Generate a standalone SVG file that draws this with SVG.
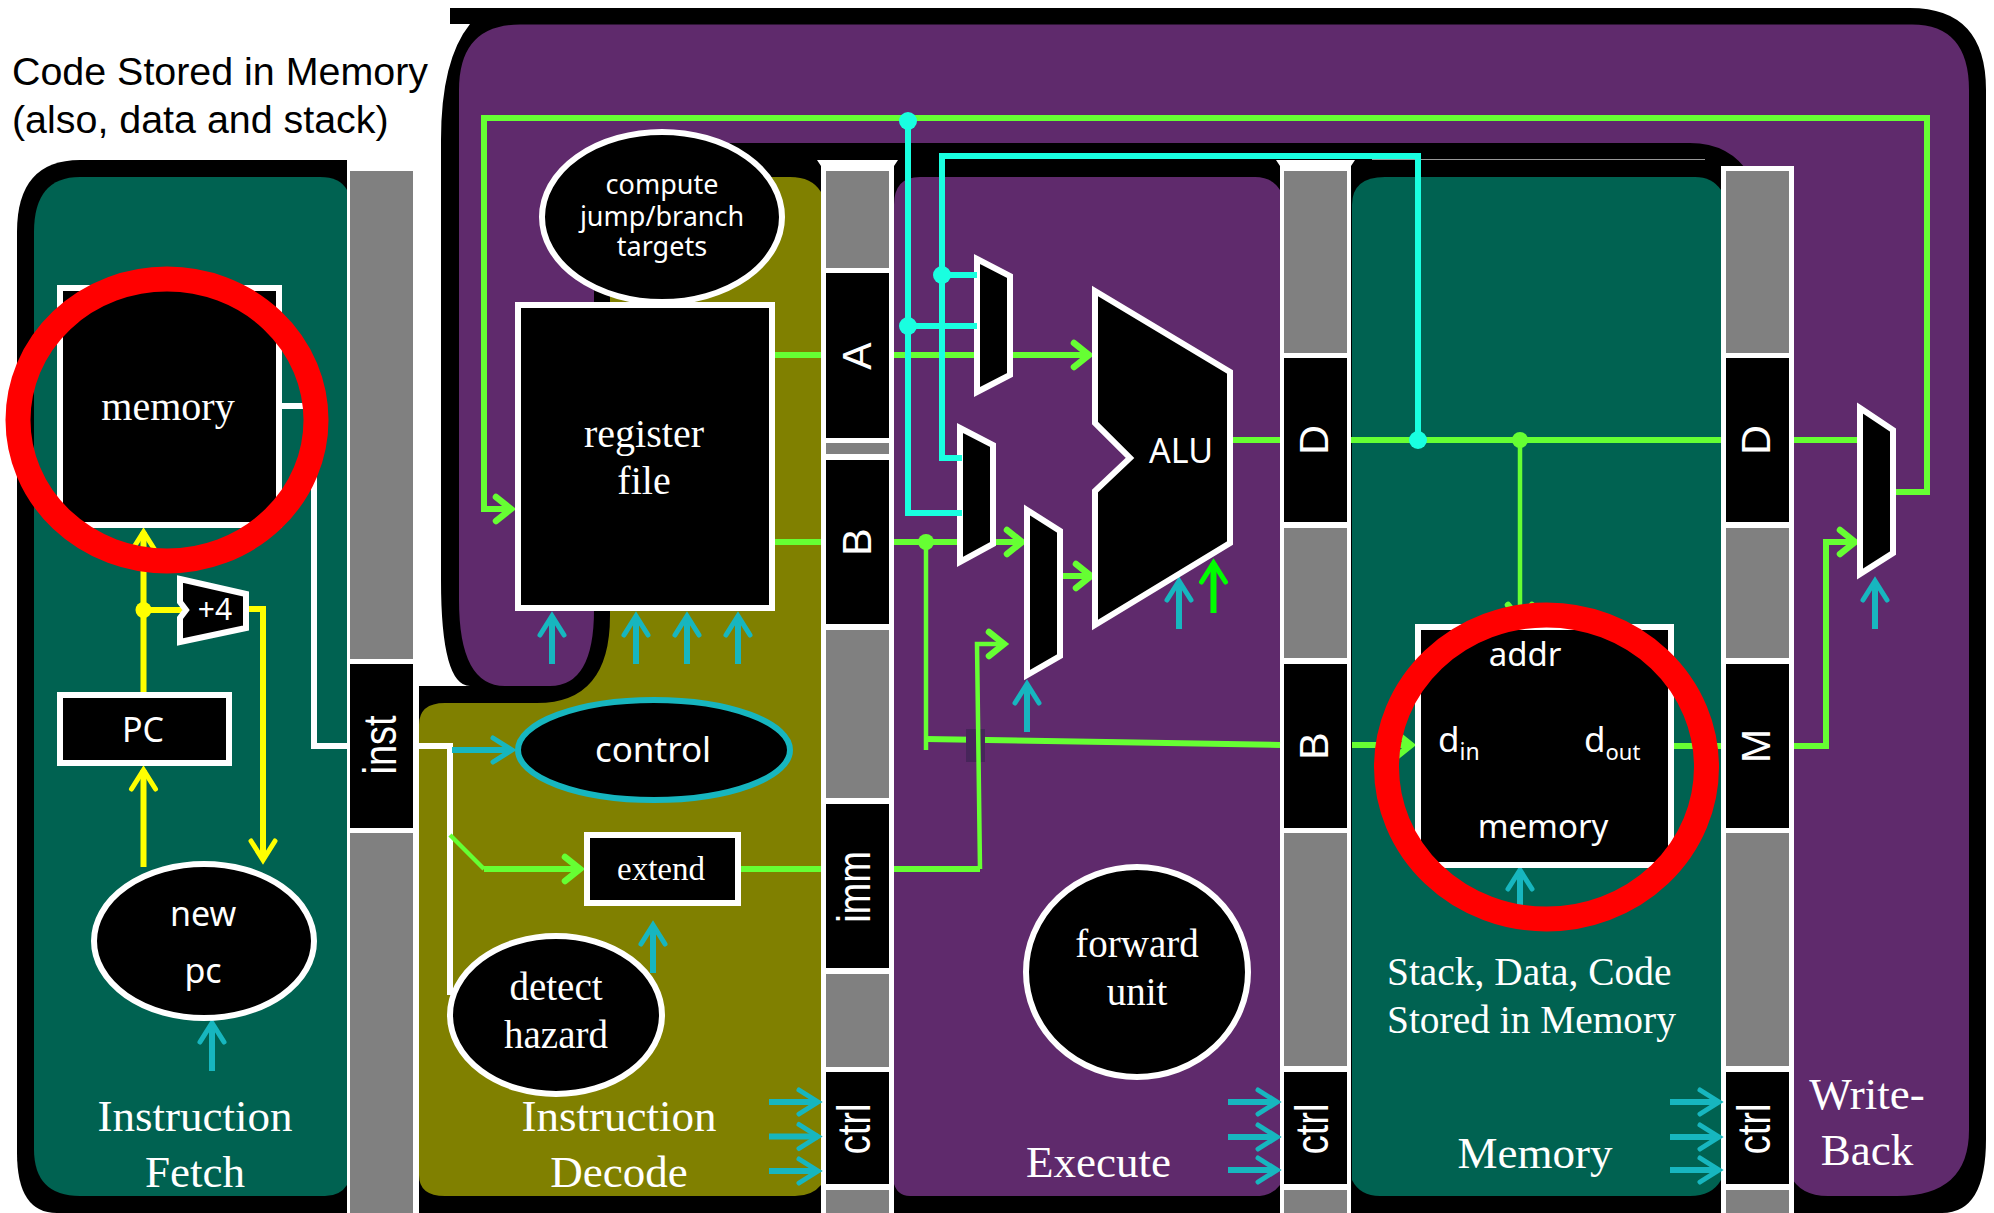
<svg xmlns="http://www.w3.org/2000/svg" width="1994" height="1213" viewBox="0 0 1994 1213">
<style>
.box{fill:#000;stroke:#fff;stroke-width:6;stroke-linejoin:miter}
.seg{fill:#000}
.gr{fill:#808080}
.wh{fill:#fff}
.s{font-family:"Liberation Serif",serif;fill:#fff;text-anchor:middle}
.n{font-family:"Noto Sans",sans-serif;fill:#fff;text-anchor:middle}
.b{font-family:"Liberation Sans",sans-serif;fill:#fff;text-anchor:middle;font-size:38px}
.bc{font-family:"Liberation Sans",sans-serif;fill:#fff;text-anchor:middle;font-size:41px}
.t{font-family:"Liberation Sans",sans-serif;fill:#000;font-size:39.400px}
.c{fill:none;stroke-linejoin:miter}
.g{stroke:#66ff33;stroke-width:6}
.gt{stroke:#66ff33;stroke-width:4.500}
.y{stroke:#ffff00;stroke-width:6}
.a{stroke:#17b6bf;stroke-width:6}
.k{stroke:#19ffe0;stroke-width:6}
.w{stroke:#fff;stroke-width:6}
.red{fill:none;stroke:#ff0000;stroke-width:25}
</style>
<defs>
<marker id="mg" markerUnits="userSpaceOnUse" markerWidth="36" markerHeight="36" refX="26" refY="18" orient="auto"><path d="M11 6 L26 18 L11 30" fill="none" stroke="#66ff33" stroke-width="6.500" stroke-linecap="round"/></marker>
<marker id="my" markerUnits="userSpaceOnUse" markerWidth="36" markerHeight="36" refX="26" refY="18" orient="auto"><path d="M7 6 L26 18 L7 30" fill="none" stroke="#ffff00" stroke-width="5" stroke-linecap="round"/></marker>
<marker id="ma" markerUnits="userSpaceOnUse" markerWidth="36" markerHeight="36" refX="26" refY="18" orient="auto"><path d="M7 6 L26 18 L7 30" fill="none" stroke="#17b6bf" stroke-width="5" stroke-linecap="round"/></marker>
<marker id="mp" markerUnits="userSpaceOnUse" markerWidth="36" markerHeight="36" refX="26" refY="18" orient="auto"><path d="M7 6 L26 18 L7 30" fill="none" stroke="#00ff00" stroke-width="5" stroke-linecap="round"/></marker>
</defs>

<g id="backdrop">
<path fill="#000" d="M450 8 H1910 Q1986 8 1986 90 V1139 Q1986 1213 1942 1213 H610 V703 H470 V686 Q441 686 441 580 V140 Q441 60 470 24 H450 Z"/>
<rect x="419" y="686" width="402" height="527" fill="#000"/>
<path fill="#5f2a6c" d="M520 24.500 H1912 Q1969 24.500 1969 90 V1130 Q1969 1196 1897 1196 H1828 Q1800 1196 1790 1175 V285 H594 V610 Q594 686 550 686 H505 Q459 686 459 600 V90 Q459 24.500 520 24.500 Z"/>
<path fill="#000" d="M610 600 V177 Q610 160 640 160 H700 V143 H1690 Q1730 143 1750 175 V1213 H610 Z"/>
<path fill="#000" d="M347 160 H80 Q17 160 17 232 V1153 Q17 1213 57 1213 H347 Z"/>
<path fill="#006251" d="M347 190 Q340 177 320 177 H80 Q34 177 34 232 V1149 Q34 1196 80 1196 H325 Q340 1196 347 1185 Z"/>
<path fill="#808000" d="M821 192 Q812 177 790 177 H610 V616 Q610 703 537 703 H445 Q419 703 419 725 V1175 Q419 1196 445 1196 H795 Q812 1196 821 1185 Z"/>
<path fill="#5f2a6c" d="M894 205 Q894 177 920 177 H1255 Q1272 177 1280 190 V1185 Q1272 1196 1255 1196 H910 Q896 1196 893 1180 Z"/>
<path fill="#006251" d="M1352 205 Q1352 177 1385 177 H1695 Q1712 177 1721 190 V1180 Q1712 1196 1690 1196 H1380 Q1360 1196 1352 1180 Z"/>
<path d="M1372 159.500 H1705" fill="none" stroke="#999" stroke-width="1"/>
</g>

<g id="title">
<text class="t" x="12" y="85">Code Stored in Memory</text>
<text class="t" x="12" y="133">(also, data and stack)</text>
</g>

<g id="pipe-if-id">
<rect class="wh" x="347" y="165" width="72" height="1048"/>
<rect class="gr" x="350" y="171" width="63" height="488"/>
<rect class="seg" x="350" y="664" width="63" height="164"/>
<rect class="gr" x="350" y="833" width="63" height="380"/>
<text class="b" transform="translate(396 745) rotate(-90) scale(1 1.200)">inst</text>
</g>

<g id="pipe-id-ex">
<path class="wh" d="M817 160 H898 L894 166 V1213 H821 V166 Z"/>
<rect class="gr" x="826" y="171" width="63" height="97"/>
<rect class="seg" x="826" y="273" width="63" height="165"/>
<rect class="gr" x="826" y="443" width="63" height="11"/>
<rect class="seg" x="826" y="460" width="63" height="164"/>
<rect class="gr" x="826" y="630" width="63" height="168"/>
<rect class="seg" x="826" y="804" width="63" height="164"/>
<rect class="gr" x="826" y="974" width="63" height="93"/>
<rect class="seg" x="826" y="1072" width="63" height="112"/>
<rect class="gr" x="826" y="1190" width="63" height="23"/>
<text class="bc" transform="translate(871 356) rotate(-90)">A</text>
<text class="bc" transform="translate(871 542) rotate(-90)">B</text>
<text class="b" transform="translate(870 887) rotate(-90) scale(1 1.200)">imm</text>
<text class="b" transform="translate(870 1129) rotate(-90) scale(1 1.200)">ctrl</text>
</g>

<g id="pipe-ex-mem">
<path class="wh" d="M1276 160 H1355 L1351 166 V1213 H1280 V166 Z"/>
<rect class="gr" x="1284" y="171" width="63" height="182"/>
<rect class="seg" x="1284" y="358" width="63" height="164"/>
<rect class="gr" x="1284" y="528" width="63" height="130"/>
<rect class="seg" x="1284" y="664" width="63" height="164"/>
<rect class="gr" x="1284" y="833" width="63" height="233"/>
<rect class="seg" x="1284" y="1072" width="63" height="112"/>
<rect class="gr" x="1284" y="1190" width="63" height="23"/>
<text class="bc" transform="translate(1328 440) rotate(-90)">D</text>
<text class="bc" transform="translate(1328 746) rotate(-90)">B</text>
<text class="b" transform="translate(1328 1129) rotate(-90) scale(1 1.200)">ctrl</text>
</g>

<g id="pipe-mem-wb">
<rect class="wh" x="1721" y="166" width="73" height="1047"/>
<rect class="gr" x="1726" y="171" width="63" height="182"/>
<rect class="seg" x="1726" y="358" width="63" height="164"/>
<rect class="gr" x="1726" y="528" width="63" height="130"/>
<rect class="seg" x="1726" y="664" width="63" height="164"/>
<rect class="gr" x="1726" y="833" width="63" height="233"/>
<rect class="seg" x="1726" y="1072" width="63" height="112"/>
<rect class="gr" x="1726" y="1190" width="63" height="23"/>
<text class="bc" transform="translate(1770 440) rotate(-90)">D</text>
<text class="bc" transform="translate(1770 746) rotate(-90)">M</text>
<text class="b" transform="translate(1770 1129) rotate(-90) scale(1 1.200)">ctrl</text>
</g>

<g id="mux-a">
<path class="box" d="M977 259 L1010 276 V375 L977 392 Z"/>
</g>
<g id="mux-b1">
<path class="box" d="M960 428 L993 445 V544 L960 562 Z"/>
</g>

<g id="connectors">
<path class="c w" d="M282 406 H314 V746 H347"/>
<path class="c w" d="M413 746 H450 V995"/>
<path class="c y" d="M143.500 693 V532" marker-end="url(#my)"/>
<path class="c y" d="M143.500 610 H182"/>
<path class="c y" d="M248 609 H263 V860" marker-end="url(#my)"/>
<path class="c y" d="M143.500 867 V770" marker-end="url(#my)"/>
<path class="c a" d="M212 1071 V1023" marker-end="url(#ma)"/>
<path class="c g" d="M1894 492 H1927 V118 H484 V509 H511" marker-end="url(#mg)"/>
<path class="c g" d="M775 355 H821"/>
<path class="c g" d="M775 542 H821"/>
<path class="c g" d="M894 355 H974"/>
<path class="c g" d="M1013 355 H1089" marker-end="url(#mg)"/>
<path class="c g" d="M894 542 H957"/>
<path class="c g" d="M996 542 H1022" marker-end="url(#mg)"/>
<path class="c g" d="M1062 576 H1091" marker-end="url(#mg)"/>
<path class="c g" d="M1231 440 H1280"/>
<path class="c g" d="M1351 440 H1721"/>
<path class="c g" d="M1794 440 H1859"/>
<path class="c gt" d="M1520 440 V620" marker-end="url(#mg)"/>
<path class="c gt" d="M926 542 V750"/>
<path class="c g" d="M926 739 L1280 745"/>
<rect x="966" y="729" width="19" height="33" fill="#47255a"/>
<path class="c gt" d="M980 869 L977 644 H1004" marker-end="url(#mg)"/>
<path class="c g" d="M740 869 H821"/>
<path class="c g" d="M894 869 H980"/>
<path class="c g" d="M1352 745 H1411" marker-end="url(#mg)"/>
<path class="c g" d="M1670 746 H1721"/>
<path class="c g" d="M1794 746 H1826 V542 H1855" marker-end="url(#mg)"/>
<path class="c k" d="M908 121 V513 H962"/>
<path class="c k" d="M908 326 H977"/>
<path class="c k" d="M942 275 H977"/>
<path class="c k" d="M962 458 H942 V156 H1418 V440"/>
<path class="c gt" d="M450 835 L484 869"/>
<path class="c g" d="M484 869 H580" marker-end="url(#mg)"/>
<path class="c a" d="M452 750 H512" marker-end="url(#ma)"/>
<path class="c a" d="M653 973 V925" marker-end="url(#ma)"/>
<path class="c a" d="M552 664 V616" marker-end="url(#ma)"/>
<path class="c a" d="M636 664 V616" marker-end="url(#ma)"/>
<path class="c a" d="M687 664 V616" marker-end="url(#ma)"/>
<path class="c a" d="M738 664 V616" marker-end="url(#ma)"/>
<path class="c a" d="M1179 629 V581" marker-end="url(#ma)"/>
<path class="c" stroke="#00ff00" stroke-width="6" d="M1213.500 613 V563" marker-end="url(#mp)"/>
<path class="c a" d="M1027 732 V684" marker-end="url(#ma)"/>
<path class="c a" d="M1875 629 V581" marker-end="url(#ma)"/>
<path class="c a" d="M1520 905 V870" marker-end="url(#ma)"/>
<path class="c a" d="M769 1102 H818" marker-end="url(#ma)"/>
<path class="c a" d="M769 1136.500 H818" marker-end="url(#ma)"/>
<path class="c a" d="M769 1171 H818" marker-end="url(#ma)"/>
<path class="c a" d="M1228 1102 H1277" marker-end="url(#ma)"/>
<path class="c a" d="M1228 1137 H1277" marker-end="url(#ma)"/>
<path class="c a" d="M1228 1170 H1277" marker-end="url(#ma)"/>
<path class="c a" d="M1670 1102 H1719" marker-end="url(#ma)"/>
<path class="c a" d="M1670 1137 H1719" marker-end="url(#ma)"/>
<path class="c a" d="M1670 1170 H1719" marker-end="url(#ma)"/>
<circle cx="143.500" cy="610" r="8" fill="#ffff00"/>
<circle cx="926" cy="542" r="8" fill="#66ff33"/>
<circle cx="1520" cy="440" r="8" fill="#66ff33"/>
<circle cx="908" cy="121" r="9" fill="#19ffe0"/>
<circle cx="908" cy="326" r="9" fill="#19ffe0"/>
<circle cx="942" cy="275" r="9" fill="#19ffe0"/>
<circle cx="1418" cy="440" r="9" fill="#19ffe0"/>
</g>

<g id="instruction-memory">
<rect class="box" x="60" y="288" width="219" height="237"/>
<text class="s" font-size="40" x="168" y="420">memory</text>
</g>
<g id="add4">
<path class="box" d="M180 579 L246 594 V628 L180 642 V618 L186 610 L180 602 Z"/>
<text class="n" font-size="30" x="215" y="620">+4</text>
</g>
<g id="pc">
<rect class="box" x="60" y="695" width="169" height="68"/>
<text class="n" font-size="34" x="143" y="742">PC</text>
</g>
<g id="new-pc">
<ellipse class="box" cx="204" cy="941" rx="110" ry="77"/>
<text class="n" font-size="34" x="203" y="926">new</text>
<text class="n" font-size="34" x="203" y="983">pc</text>
</g>
<g id="compute-targets">
<ellipse class="box" cx="662" cy="217" rx="120" ry="85"/>
<text class="n" font-size="27" x="662" y="194">compute</text>
<text class="n" font-size="27" x="662" y="226">jump/branch</text>
<text class="n" font-size="27" x="662" y="256">targets</text>
</g>
<g id="register-file">
<rect class="box" x="518" y="305" width="254" height="303"/>
<text class="s" font-size="40" x="644" y="447">register</text>
<text class="s" font-size="40" x="644" y="494">file</text>
</g>
<g id="control">
<ellipse cx="654" cy="750" rx="136" ry="50" fill="#000" stroke="#17b6bf" stroke-width="6"/>
<text class="n" font-size="35" x="653" y="762">control</text>
</g>
<g id="extend">
<rect class="box" x="587" y="835" width="151" height="68"/>
<text class="s" font-size="33" x="661" y="880">extend</text>
</g>
<g id="detect-hazard">
<ellipse class="box" cx="556" cy="1015" rx="106" ry="79"/>
<text class="s" font-size="39" x="556" y="1000">detect</text>
<text class="s" font-size="39" x="556" y="1048">hazard</text>
</g>
<g id="mux-b2">
<path class="box" d="M1027 510 L1060 531 V656 L1027 675 Z"/>
</g>
<g id="alu">
<path class="box" d="M1095 291 L1230 372 V543 L1095 625 V491 L1130 458 L1095 423 Z"/>
<text class="n" font-size="34" x="1181" y="463">ALU</text>
</g>
<g id="forward-unit">
<ellipse class="box" cx="1137" cy="972" rx="111" ry="105"/>
<text class="s" font-size="39" x="1137" y="957">forward</text>
<text class="s" font-size="39" x="1137" y="1005">unit</text>
</g>
<g id="data-memory">
<rect class="box" x="1418" y="627" width="253" height="238"/>
<text class="n" font-size="33" x="1525" y="666">addr</text>
<text class="n" font-size="35" x="1438" y="752" style="text-anchor:start">d<tspan font-size="23" dy="8">in</tspan></text>
<text class="n" font-size="35" x="1584" y="752" style="text-anchor:start">d<tspan font-size="22" dy="8">out</tspan></text>
<text class="n" font-size="33" x="1543" y="838">memory</text>
</g>
<g id="mux-wb">
<path class="box" d="M1860 408 L1893 430 V553 L1860 574 Z"/>
</g>

<g id="labels">
<text class="s" font-size="45" x="195" y="1131">Instruction</text>
<text class="s" font-size="45" x="195" y="1187">Fetch</text>
<text class="s" font-size="45" x="619" y="1131">Instruction</text>
<text class="s" font-size="45" x="619" y="1187">Decode</text>
<text class="s" font-size="45" x="1098.500" y="1177">Execute</text>
<text class="s" font-size="45" x="1535" y="1168">Memory</text>
<text class="s" font-size="45" x="1867" y="1109">Write-</text>
<text class="s" font-size="45" x="1867" y="1165">Back</text>
<text class="s" font-size="39.400" x="1387" y="985" style="text-anchor:start">Stack, Data, Code</text>
<text class="s" font-size="39.400" x="1387" y="1033" style="text-anchor:start">Stored in Memory</text>
</g>

<g id="highlights">
<ellipse class="red" cx="167" cy="420" rx="149" ry="141"/>
<ellipse class="red" cx="1546.500" cy="767" rx="160" ry="152"/>
</g>
</svg>
